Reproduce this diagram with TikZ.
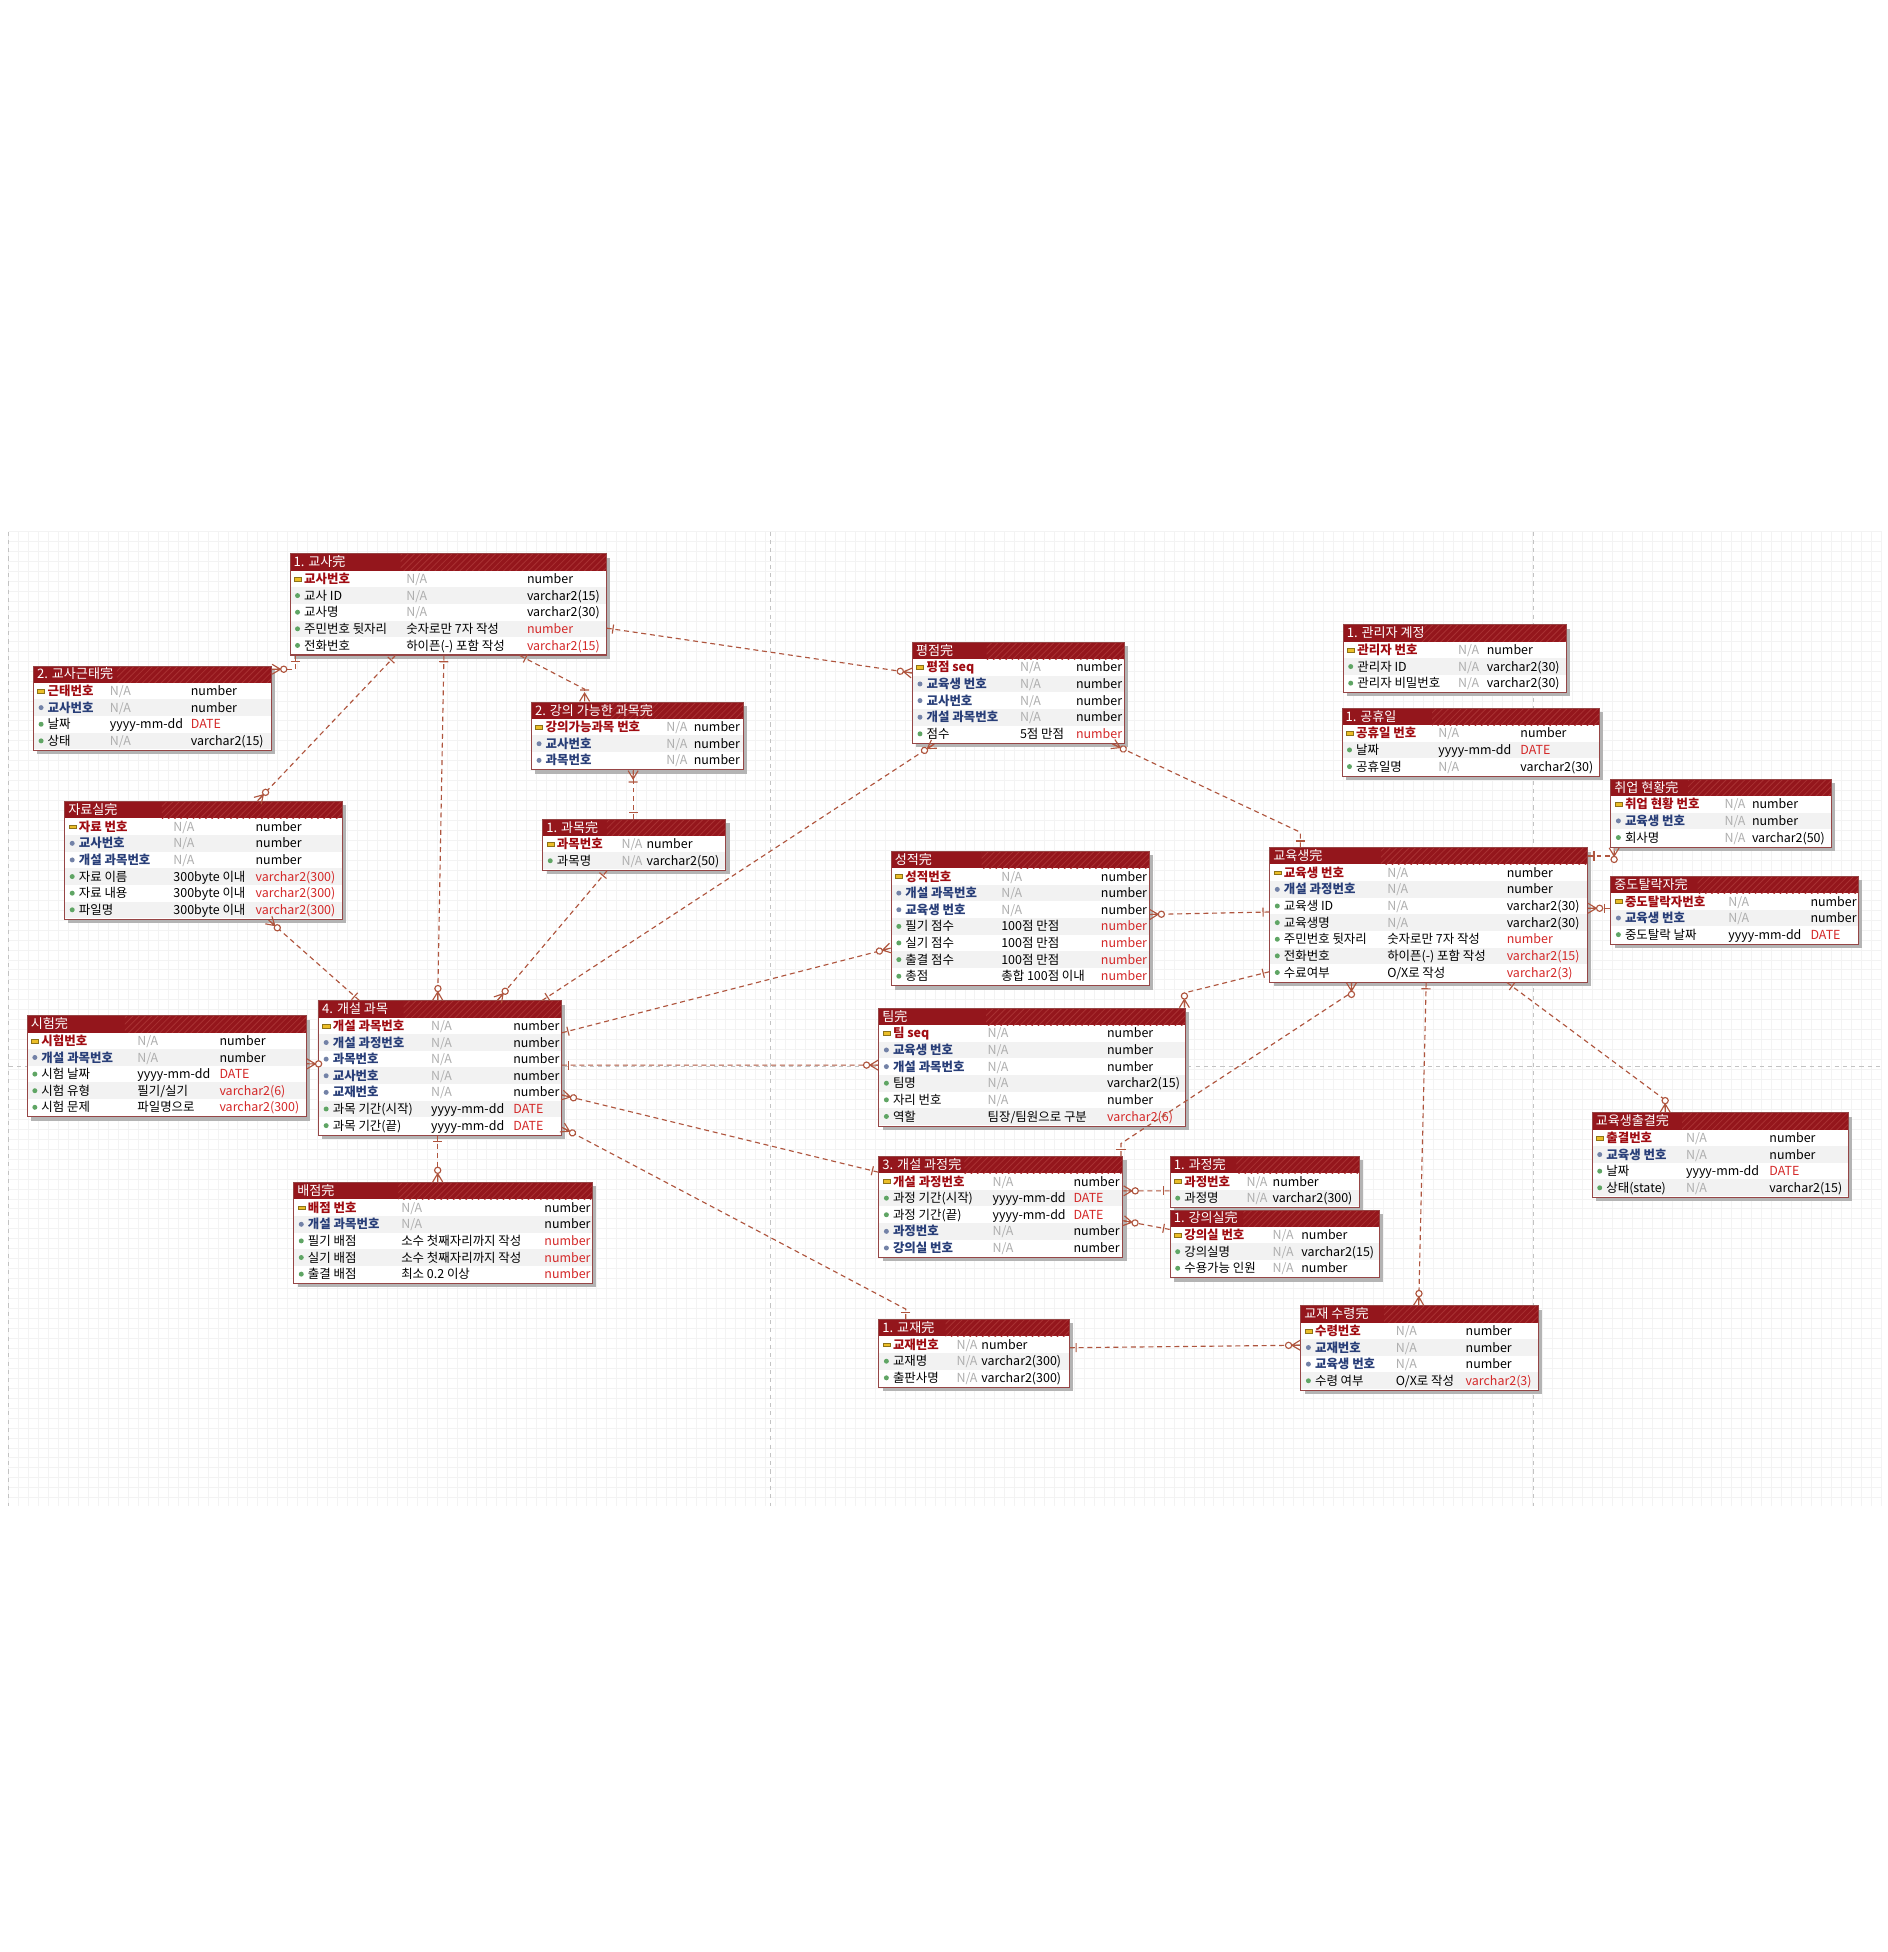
\documentclass[tikz,border=0pt]{standalone}
\usepackage{fontspec}
\newfontfamily\kr{Noto Sans CJK KR}
\usetikzlibrary{calc, fit, patterns, decorations.markings}

\definecolor{titlered}{RGB}{148,22,28}
\definecolor{hatchred}{RGB}{168,48,50}
\definecolor{framered}{RGB}{150,70,70}
\definecolor{rowgray}{RGB}{242,242,242}
\definecolor{shadowgray}{RGB}{180,180,180}
\definecolor{pkred}{RGB}{160,12,18}
\definecolor{fkblue}{RGB}{40,62,120}
\definecolor{nagray}{RGB}{175,175,175}
\definecolor{typered}{RGB}{212,40,40}
\definecolor{keygold}{RGB}{235,190,40}
\definecolor{dotgreen}{RGB}{95,165,100}
\definecolor{relbrown}{RGB}{175,85,62}
\definecolor{gridline}{RGB}{243,243,243}
\definecolor{pageline}{RGB}{195,195,195}

\tikzset{
  field/.style={anchor=base west, inner sep=0pt, font=\kr\fontsize{6}{7}\selectfont, text=black},
  kname/.style={font=\kr\bfseries\fontsize{6}{7}\selectfont, text=pkred},
  fname/.style={font=\kr\bfseries\fontsize{6}{7}\selectfont, text=fkblue},
  nname/.style={}, cname/.style={},
  kicon/.style={fill=keygold, draw=keygold!60!black, line width=0.15pt, minimum width=3.4pt, minimum height=1.8pt, inner sep=0pt},
  ficon/.style={circle, fill=fkblue!65, minimum size=2.4pt, inner sep=0pt},
  nicon/.style={circle, fill=dotgreen, minimum size=2.4pt, inner sep=0pt},
  cicon/.style={nicon},
  kcols/.code={\def\notetext{N/A}\def\notecol{nagray}\def\typecol{black}},
  fcols/.style={kcols}, ncols/.style={kcols},
  ccols/.code={\let\notetext\rc\def\notecol{black}\def\typecol{typered}},
  titletext/.style={anchor=base west, inner sep=0pt, text=white, font=\kr\fontsize{6.3}{7}\selectfont},
  rel/.style={draw=relbrown, dash pattern=on 2.4pt off 1.8pt, line width=0.55pt},
  pone/.style={postaction={decorate, decoration={markings, mark=at position 3pt with {\draw[solid, relbrown, line width=0.55pt] (0,-2.2pt) -- (0,2.2pt);}}}},
  zmany/.style={postaction={decorate, decoration={markings, mark=at position -0.1pt with {\draw[solid, relbrown, line width=0.55pt] (0,2.4pt) -- (-4pt,0) -- (0,-2.4pt) (-4pt,0) -- (0,0); \draw[solid, relbrown, line width=0.55pt, fill=white] (-5.6pt,0) circle (1.5pt);}}}},
  omany/.style={postaction={decorate, decoration={markings, mark=at position -0.1pt with {\draw[solid, relbrown, line width=0.55pt] (0,2.4pt) -- (-4pt,0) -- (0,-2.4pt) (-4pt,0) -- (0,0) (-5.5pt,-2.2pt) -- (-5.5pt,2.2pt);}}}},
}

% table: name, left, top, right, comment column, type column, title, rows (kind/name/comment/type)
\newcommand{\ertable}[8]{%
  \foreach \rk/\rn/\rc/\rt [count=\i] in {#8} {\xdef\nrows{\i}}%
  \pgfmathsetmacro{\ebot}{#3+13.4+\nrows*13.35+1}%
  \fill[shadowgray] (#2+3,#3+3) rectangle (#4+3,\ebot+3);
  \fill[white] (#2,#3) rectangle (#4,\ebot);
  \foreach \rk/\rn/\rc/\rt [count=\i] in {#8} {
    \pgfmathsetmacro{\ry}{#3+13.4+(\i-0.5)*13.35}
    \ifodd\i\else\fill[rowgray] (#2,\ry-6.67) rectangle (#4,\ry+6.67);\fi
    \tikzset{\rk cols}
    \node[\rk icon] at (#2+6,\ry) {};
    \node[field, \rk name] at (#2+11,\ry+3.7) {\rn};
    \node[field, text=\notecol] at (#2+#5,\ry+3.7) {\notetext};
    \node[field, text=\typecol] at (#2+#6,\ry+3.7) {\rt};
  }
  \fill[titlered] (#2,#3) rectangle (#4,#3+13.4);
  \fill[pattern=north east lines, pattern color=hatchred] ({#2+0.35*(#4-#2)},#3) rectangle (#4,#3+13.4);
  \node[titletext] at (#2+2.5,#3+10.4) {#7};
  \node[fit={(#2,#3) (#4,\ebot)}, inner sep=0pt, draw=framered, line width=0.5pt] (#1) {};
}

\begin{document}
\begin{tikzpicture}[x=0.6pt, y=-0.6pt]
  \useasboundingbox (0,0) rectangle (1516,1568);
  \fill[white] (0,0) rectangle (1516,1568);

  % Grid and page breaks
  \foreach \gx in {7,15,...,1512} \draw[gridline, line width=0.3pt] (\gx,427) -- (\gx,1210);
  \foreach \gy in {427,435,...,1210} \draw[gridline, line width=0.3pt] (7,\gy) -- (1512,\gy);
  \foreach \px in {7,619,1232} \draw[pageline, dash pattern=on 2pt off 2pt, line width=0.4pt] (\px,427) -- (\px,1210);
  \draw[pageline, dash pattern=on 2pt off 2pt, line width=0.4pt] (7,857) -- (1512,857);

  % Tables
  \ertable{tch}{233}{445}{487}{93}{190}{1. 교사完}{
    k/교사번호/-/number,
    n/교사 ID/-/varchar2(15),
    n/교사명/-/varchar2(30),
    c/주민번호 뒷자리/숫자로만 7자 작성/number,
    c/전화번호/하이픈(-) 포함 작성/varchar2(15)}
  \ertable{att}{27}{535}{218}{61}{126}{2. 교사근태完}{
    k/근태번호/-/number,
    f/교사번호/-/number,
    c/날짜/yyyy-mm-dd/DATE,
    n/상태/-/varchar2(15)}
  \ertable{avl}{427}{564}{597}{108}{130}{2. 강의 가능한 과목完}{
    k/강의가능과목 번호/-/number,
    f/교사번호/-/number,
    f/과목번호/-/number}
  \ertable{sub}{436}{658}{583}{63}{83}{1. 과목完}{
    k/과목번호/-/number,
    n/과목명/-/varchar2(50)}
  \ertable{lib}{52}{644}{275}{87}{153}{자료실完}{
    k/자료 번호/-/number,
    f/교사번호/-/number,
    f/개설 과목번호/-/number,
    c/자료 이름/300byte 이내/varchar2(300),
    c/자료 내용/300byte 이내/varchar2(300),
    c/파일명/300byte 이내/varchar2(300)}
  \ertable{exm}{22}{816}{246}{88}{154}{시험完}{
    k/시험번호/-/number,
    f/개설 과목번호/-/number,
    c/시험 날짜/yyyy-mm-dd/DATE,
    c/시험 유형/{필기/실기}/varchar2(6),
    c/시험 문제/파일명으로/varchar2(300)}
  \ertable{osub}{256}{804}{451}{90}{156}{4. 개설 과목}{
    k/개설 과목번호/-/number,
    f/개설 과정번호/-/number,
    f/과목번호/-/number,
    f/교사번호/-/number,
    f/교재번호/-/number,
    c/과목 기간(시작)/yyyy-mm-dd/DATE,
    c/과목 기간(끝)/yyyy-mm-dd/DATE}
  \ertable{pts}{236}{950}{476}{86}{201}{배점完}{
    k/배점 번호/-/number,
    f/개설 과목번호/-/number,
    c/필기 배점/소수 첫째자리까지 작성/number,
    c/실기 배점/소수 첫째자리까지 작성/number,
    c/출결 배점/최소 0.2 이상/number}
  \ertable{rat}{733}{516}{903}{86}{131}{평점完}{
    k/평점 seq/-/number,
    f/교육생 번호/-/number,
    f/교사번호/-/number,
    f/개설 과목번호/-/number,
    c/점수/5점 만점/number}
  \ertable{grd}{716}{684}{923}{88}{168}{성적完}{
    k/성적번호/-/number,
    f/개설 과목번호/-/number,
    f/교육생 번호/-/number,
    c/필기 점수/100점 만점/number,
    c/실기 점수/100점 만점/number,
    c/출결 점수/100점 만점/number,
    c/총점/총합 100점 이내/number}
  \ertable{team}{706}{810}{952}{87}{183}{팀完}{
    k/팀 seq/-/number,
    f/교육생 번호/-/number,
    f/개설 과목번호/-/number,
    n/팀명/-/varchar2(15),
    n/자리 번호/-/number,
    c/역할/{팀장/팀원으로 구분}/varchar2(6)}
  \ertable{ocrs}{706}{929}{902}{91}{156}{3. 개설 과정完}{
    k/개설 과정번호/-/number,
    c/과정 기간(시작)/yyyy-mm-dd/DATE,
    c/과정 기간(끝)/yyyy-mm-dd/DATE,
    f/과정번호/-/number,
    f/강의실 번호/-/number}
  \ertable{crs}{940}{929}{1092}{61}{82}{1. 과정完}{
    k/과정번호/-/number,
    n/과정명/-/varchar2(300)}
  \ertable{room}{940}{972}{1108}{82}{105}{1. 강의실完}{
    k/강의실 번호/-/number,
    n/강의실명/-/varchar2(15),
    n/수용가능 인원/-/number}
  \ertable{book}{706}{1060}{859}{62}{82}{1. 교재完}{
    k/교재번호/-/number,
    n/교재명/-/varchar2(300),
    n/출판사명/-/varchar2(300)}
  \ertable{rcv}{1045}{1049}{1236}{76}{132}{교재 수령完}{
    k/수령번호/-/number,
    f/교재번호/-/number,
    f/교육생 번호/-/number,
    c/수령 여부/{O/X로 작성}/varchar2(3)}
  \ertable{stu}{1020}{681}{1275}{94}{190}{교육생完}{
    k/교육생 번호/-/number,
    f/개설 과정번호/-/number,
    n/교육생 ID/-/varchar2(30),
    n/교육생명/-/varchar2(30),
    c/주민번호 뒷자리/숫자로만 7자 작성/number,
    c/전화번호/하이픈(-) 포함 작성/varchar2(15),
    c/수료여부/{O/X로 작성}/varchar2(3)}
  \ertable{adm}{1079}{502}{1258}{92}{115}{1. 관리자 계정}{
    k/관리자 번호/-/number,
    n/관리자 ID/-/varchar2(30),
    n/관리자 비밀번호/-/varchar2(30)}
  \ertable{hol}{1078}{569}{1285}{77}{143}{1. 공휴일}{
    k/공휴일 번호/-/number,
    c/날짜/yyyy-mm-dd/DATE,
    n/공휴일명/-/varchar2(30)}
  \ertable{job}{1294}{626}{1471}{91}{113}{취업 현황完}{
    k/취업 현황 번호/-/number,
    f/교육생 번호/-/number,
    n/회사명/-/varchar2(50)}
  \ertable{drop}{1294}{704}{1493}{94}{160}{중도탈락자完}{
    k/중도탈락자번호/-/number,
    f/교육생 번호/-/number,
    c/중도탈락 날짜/yyyy-mm-dd/DATE}
  \ertable{atd}{1279}{894}{1485}{75}{142}{교육생출결完}{
    k/출결번호/-/number,
    f/교육생 번호/-/number,
    c/날짜/yyyy-mm-dd/DATE,
    n/상태(state)/-/varchar2(15)}

  % Relationships
  \draw[rel, pone, zmany] ($(tch.north east)+(0,60)$) -- ($(rat.north west)+(0,25)$);
  \draw[rel, pone, zmany] ($(tch.south west)+(5,0)$) |- ($(att.north east)+(0,3)$);
  \draw[rel, pone, zmany] ($(tch.south west)+(85,0)$) -- ($(lib.north west)+(155,0)$);
  \draw[rel, pone, zmany] ($(tch.south west)+(124,0)$) -- ($(osub.north west)+(96,0)$);
  \draw[rel, pone, omany] ($(tch.south west)+(185,0)$) -- ($(avl.north west)+(43,-10)$) -- ($(avl.north west)+(43,0)$);
  \draw[rel, pone, omany] ($(sub.north west)+(73,0)$) -- ($(avl.south west)+(82,0)$);
  \draw[rel, pone, zmany] ($(sub.south west)+(52,0)$) -- ($(osub.north west)+(144,0)$);
  \draw[rel, pone, zmany] ($(osub.north west)+(33,0)$) -- ($(lib.south west)+(164,0)$);
  \draw[rel, pone, zmany] ($(osub.north west)+(180,0)$) -- ($(rat.south west)+(18,0)$);
  \draw[rel, pone, zmany] ($(stu.north west)+(25,0)$) -- ($(stu.north west)+(25,-12)$) -- ($(rat.south west)+(161,0)$);
  \draw[rel, pone, zmany] ($(osub.north east)+(0,26)$) -- ($(grd.north west)+(0,78)$);
  \draw[rel, pone, zmany] ($(stu.north west)+(0,52)$) -- ($(grd.north east)+(0,51)$);
  \draw[rel, pone, zmany] ($(osub.north east)+(0,52)$) -- ($(team.north west)+(0,46)$);
  \draw[rel, pone, zmany] ($(stu.north west)+(0,100)$) -- ($(team.north east)+(-1,-12)$) -- ($(team.north east)+(-1,0)$);
  \draw[rel, pone, zmany] ($(ocrs.north west)+(0,13)$) -- ($(osub.north east)+(0,76)$);
  \draw[rel, pone, zmany] ($(book.north west)+(22,0)$) -- ($(book.north west)+(22,-8)$) -- ($(osub.north east)+(0,102)$);
  \draw[rel, zmany] ($(osub.north west)+(0,51)$) -- ($(exm.north east)+(0,39)$);
  \draw[rel, pone, zmany] ($(osub.south west)+(96,0)$) -- ($(pts.north west)+(116,0)$);
  \draw[rel, pone, zmany] ($(crs.north west)+(0,28)$) -- ($(ocrs.north east)+(0,28)$);
  \draw[rel, pone, zmany] ($(room.north west)+(0,16)$) -- ($(ocrs.north east)+(0,52)$);
  \draw[rel, pone, zmany] ($(ocrs.north east)+(-2,0)$) -- ($(ocrs.north east)+(-2,-10)$) -- ($(stu.south west)+(66,8)$) -- ($(stu.south west)+(66,0)$);
  \draw[rel, pone, zmany] ($(stu.south west)+(126,0)$) -- ($(rcv.north west)+(95,0)$);
  \draw[rel, pone, zmany] ($(stu.south west)+(191,0)$) -- ($(atd.north west)+(59,-10)$) -- ($(atd.north west)+(59,0)$);
  \draw[rel, pone, zmany] ($(stu.north east)+(0,7)$) -| ($(job.south west)+(3,0)$);
  \draw[rel, pone, zmany] ($(drop.north west)+(0,26)$) -- ($(stu.north east)+(0,49)$);
  \draw[rel, pone, zmany] ($(book.north east)+(0,23)$) -- ($(rcv.north west)+(0,32)$);
\end{tikzpicture}
\end{document}
